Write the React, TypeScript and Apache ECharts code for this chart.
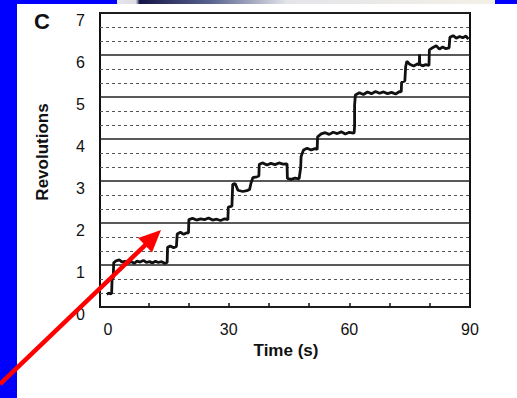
import React, { useEffect, useRef } from "react";
import * as echarts from "echarts";

// Trace: time (s) and revolutions
const time = [
  -0.3, 0.2, 0.7, 0.9, 1.0, 1.3, 1.4, 2.0, 2.8, 3.5, 4.2, 5.0, 5.8, 6.5, 7.2, 8.0, 8.8, 9.5, 10.3, 11.0,
  11.8, 12.5, 13.3, 14.0, 14.7, 14.8, 15.5, 16.3, 17.0, 17.2, 18.0, 18.8, 19.6, 20.0, 20.1, 21.0, 22.0,
  23.0, 24.0, 25.0, 26.0, 27.0, 28.0, 29.0, 29.8, 29.9, 30.8, 31.0, 31.6, 32.3, 33.5, 34.5, 35.2, 35.5,
  36.0, 37.0, 37.5, 37.6, 38.5, 39.5, 40.5, 41.5, 42.5, 43.5, 44.5, 44.6, 45.5, 46.5, 47.5, 47.9, 48.0,
  48.6, 49.5, 50.5, 51.5, 52.0, 52.1, 53.0, 54.0, 55.0, 56.0, 57.0, 58.0, 59.0, 60.0, 61.0, 61.2, 61.3,
  61.3, 61.5, 62.5, 63.5, 64.5, 65.5, 66.5, 67.5, 68.5, 69.5, 70.5, 71.5, 72.5, 72.9, 73.0, 73.8, 74.0,
  74.3, 75.0, 76.0, 77.0, 77.4, 77.45, 77.5, 78.2, 79.0, 79.8, 79.9, 80.8, 81.6, 82.4, 83.2, 84.0, 84.8,
  85.0, 85.8, 86.6, 87.4, 88.2, 89.0, 89.6,
];
const revolutions = [
  0.3, 0.33, 0.31, 0.34, 0.66, 0.7, 1.05, 1.1, 1.12, 1.07, 1.09, 1.05, 1.08, 1.04, 1.09, 1.07, 1.11, 1.06, 1.08, 1.05,
  1.09, 1.06, 1.08, 1.04, 1.06, 1.42, 1.45, 1.41, 1.44, 1.74, 1.78, 1.73, 1.77, 1.76, 2.08, 2.11, 2.07,
  2.1, 2.08, 2.12, 2.07, 2.09, 2.06, 2.1, 2.08, 2.38, 2.4, 2.92, 2.94, 2.78, 2.75, 2.77, 2.8, 2.93,
  3.08, 3.1, 3.12, 3.4, 3.43, 3.38, 3.42, 3.39, 3.43, 3.4, 3.41, 3.06, 3.04, 3.07, 3.05, 3.32, 3.58,
  3.74, 3.78, 3.74, 3.77, 3.75, 4.05, 4.12, 4.15, 4.11, 4.16, 4.13, 4.17, 4.12, 4.16, 4.14, 4.15, 4.3,
  4.8, 5.05, 5.1, 5.06, 5.12, 5.08, 5.13, 5.09, 5.12, 5.08, 5.11, 5.07, 5.13, 5.12, 5.35, 5.38, 5.72,
  5.85, 5.78, 5.74, 5.79, 5.76, 6.02, 5.78, 5.74, 5.77, 5.75, 6.12, 6.18, 6.22, 6.14, 6.19, 6.15, 6.17,
  6.42, 6.46, 6.4, 6.44, 6.41, 6.45, 6.38,
];

const xLabelValues = [0, 30, 60, 90];
const xTickValues = [10, 20, 30, 40, 50, 60, 70, 80];
const yMin = 0;
const yMax = 7;
const xMin = -2;
const xMax = 90;

const FONT = "'Liberation Sans', Arial, sans-serif";

export default function App() {
  const ref = useRef<HTMLDivElement>(null);

  useEffect(() => {
    if (!ref.current) return;
    const chart = echarts.init(ref.current, null, { renderer: "svg" });
    const data = time.map((t, i) => [t, revolutions[i]]);

    // arrow geometry
    const tail = [0, 384];
    const tip = [161, 230];
    const dx = tip[0] - tail[0];
    const dy = tip[1] - tail[1];
    const len = Math.sqrt(dx * dx + dy * dy);
    const ux = dx / len;
    const uy = dy / len;
    const headLen = 22;
    const halfW = 10;
    const bx = tip[0] - ux * headLen;
    const by = tip[1] - uy * headLen;
    const wing1 = [bx - uy * halfW, by + ux * halfW];
    const wing2 = [bx + uy * halfW, by - ux * halfW];

    chart.setOption({
      animation: false,
      backgroundColor: "#ffffff",
      grid: {
        left: 100,
        right: 47,
        top: 13,
        bottom: 91,
        show: true,
        borderColor: "#111",
        borderWidth: 2,
        backgroundColor: "transparent",
      },
      xAxis: {
        type: "value",
        min: xMin,
        max: xMax,
        axisLine: { show: false },
        splitLine: { show: false },
        axisTick: {
          show: true,
          inside: true,
          length: 4,
          customValues: xTickValues,
          lineStyle: { color: "#111", width: 1.5 },
        },
        axisLabel: {
          customValues: xLabelValues,
          margin: 14,
          fontSize: 16,
          color: "#111",
          fontFamily: FONT,
        },
      },
      yAxis: {
        type: "value",
        min: yMin,
        max: yMax,
        interval: 1,
        axisLine: { show: false },
        axisTick: { show: false },
        axisLabel: {
          margin: 15,
          fontSize: 16,
          lineHeight: 14,
          verticalAlign: "top",
          color: "#111",
          fontFamily: FONT,
        },
        splitLine: { show: true, lineStyle: { color: "#222", width: 1.5 } },
        minorTick: { show: false, splitNumber: 3 },
        minorSplitLine: {
          show: true,
          lineStyle: { color: "#555", width: 1.2, type: [3, 3] },
        },
      },
      series: [
        {
          type: "line",
          data,
          showSymbol: false,
          symbol: "none",
          lineStyle: { color: "#111", width: 2.8 },
          z: 5,
        },
      ],
      graphic: [
        { type: "rect", shape: { x: 0, y: 0, width: 17, height: 398 }, style: { fill: "#0000ff" }, z: 1 },
        { type: "rect", shape: { x: 0, y: 0, width: 117, height: 4 }, style: { fill: "#0000ff" }, z: 1 },
        {
          type: "rect",
          shape: { x: 117, y: 0, width: 378, height: 4 },
          style: {
            fill: new echarts.graphic.LinearGradient(0, 0, 1, 0, [
              { offset: 0, color: "#e6e6ea" },
              { offset: 0.05, color: "#dcdce4" },
              { offset: 0.06, color: "#141446" },
              { offset: 0.25, color: "#5a6490" },
              { offset: 0.45, color: "#e4e4ea" },
              { offset: 1, color: "#f3f1e6" },
            ]),
          },
          z: 1,
        },
        { type: "rect", shape: { x: 495, y: 0, width: 22, height: 4 }, style: { fill: "#0000ff" }, z: 1 },
        {
          type: "text",
          x: 42,
          y: 21,
          style: {
            text: "C",
            fontSize: 22,
            fontWeight: "bold",
            fontFamily: FONT,
            fill: "#111",
            align: "center",
            verticalAlign: "middle",
          },
          z: 10,
        },
        {
          type: "text",
          x: 42,
          y: 152,
          rotation: Math.PI / 2,
          style: {
            text: "Revolutions",
            fontSize: 17,
            fontWeight: "bold",
            fontFamily: FONT,
            fill: "#111",
            align: "center",
            verticalAlign: "middle",
          },
          z: 10,
        },
        {
          type: "text",
          x: 286,
          y: 350,
          style: {
            text: "Time (s)",
            fontSize: 17,
            fontWeight: "bold",
            fontFamily: FONT,
            fill: "#111",
            align: "center",
            verticalAlign: "middle",
          },
          z: 10,
        },
        {
          type: "line",
          shape: { x1: tail[0], y1: tail[1], x2: bx + ux * 2, y2: by + uy * 2 },
          style: { stroke: "#ff0000", lineWidth: 4.5 },
          z: 20,
        },
        {
          type: "polygon",
          shape: { points: [tip, wing1, wing2] },
          style: { fill: "#ff0000" },
          z: 20,
        },
      ],
    });

    return () => chart.dispose();
  }, []);

  return (
    <div
      ref={ref}
      style={{ position: "fixed", left: 0, top: 0, width: 517, height: 398, background: "#fff" }}
    />
  );
}
